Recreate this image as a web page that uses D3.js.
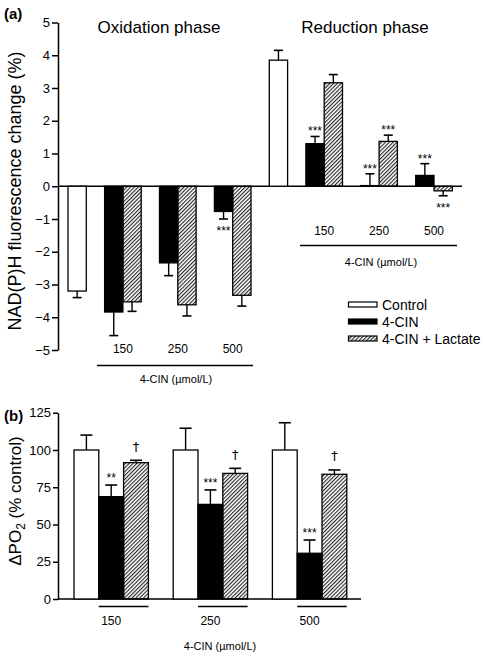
<!DOCTYPE html>
<html>
<head>
<meta charset="utf-8">
<script src="https://cdn.jsdelivr.net/npm/d3@7"></script>
<style>
  html, body { margin: 0; padding: 0; background: #fff; }
  svg { display: block; }
  text { font-family: "Liberation Sans", Arial, Helvetica, sans-serif; fill: #000; }
</style>
</head>
<body>
<svg id="chart" width="483" height="657"></svg>
<script>
// ---------------- DATA ----------------
const seriesNames = ["Control", "4-CIN", "4-CIN + Lactate"];
const doses = ["150", "250", "500"];
const phases = ["Oxidation phase", "Reduction phase"];

// Panel (a): NAD(P)H fluorescence change (%)
const oxControl = -3.2, oxControlErr = 0.2;
const ox4CIN = [-3.84, -2.34, -0.77];
const ox4CINErr = [0.72, 0.39, 0.23];
const oxLact = [-3.53, -3.62, -3.33];
const oxLactErr = [0.29, 0.34, 0.33];
const ox4CINSig = ["", "", "***"];
const oxLactSig = ["", "", ""];

const redControl = 3.85, redControlErr = 0.3;
const red4CIN = [1.3, 0.02, 0.33];
const red4CINErr = [0.22, 0.36, 0.36];
const redLact = [3.16, 1.37, -0.14];
const redLactErr = [0.25, 0.19, 0.15];
const red4CINSig = ["***", "***", "***"];
const redLactSig = ["", "***", "***"];

const aTicks = [-5, -4, -3, -2, -1, 0, 1, 2, 3, 4, 5];

// Panel (b): ΔPO2 (% control)
const bControl = [100, 100, 100];
const bControlErr = [10, 14.6, 18.3];
const b4CIN = [68.7, 63.5, 30.7];
const b4CINErr = [7.8, 9.7, 8.9];
const bLact = [91.5, 84.3, 83.7];
const bLactErr = [1.6, 3.4, 2.9];
const b4CINSig = ["**", "***", "***"];
const bLactSig = ["\u2020", "\u2020", "\u2020"];
const bTicks = [0, 25, 50, 75, 100, 125];

const doseUnitLabel = "4-CIN (\u00B5mol/L)";

// ---------------- SETUP ----------------
const svg = d3.select("#chart");
const defs = svg.append("defs");
defs.append("pattern")
  .attr("id", "hatch")
  .attr("patternUnits", "userSpaceOnUse")
  .attr("width", 2.7).attr("height", 10)
  .attr("patternTransform", "rotate(45)")
  .append("line")
  .attr("x1", 0.6).attr("y1", 0).attr("x2", 0.6).attr("y2", 10)
  .attr("stroke", "#000").attr("stroke-width", 0.95);

const fills = { control: "#fff", cin: "#000", lact: "url(#hatch)" };

function drawBar(g, x0, x1, y, v, err, fill, capW, sig, sigStyle) {
  const yv = y(v), y0 = y(0);
  const top = Math.min(yv, y0), h = Math.abs(yv - y0);
  const xc = (x0 + x1) / 2;
  const dir = v >= 0 ? 1 : -1;
  const ye = y(v + dir * err);
  // error bar
  g.append("line").attr("x1", xc).attr("x2", xc).attr("y1", yv).attr("y2", ye)
    .attr("stroke", "#000").attr("stroke-width", 1.4);
  g.append("line").attr("x1", xc - capW / 2).attr("x2", xc + capW / 2).attr("y1", ye).attr("y2", ye)
    .attr("stroke", "#000").attr("stroke-width", 1.6);
  g.append("rect").attr("x", x0).attr("y", top).attr("width", x1 - x0).attr("height", Math.max(h, 0.01))
    .attr("fill", fill).attr("stroke", "#000").attr("stroke-width", 1.3);
  if (sig) {
    const isDagger = sig === "\u2020";
    let by;
    if (dir > 0) by = ye - (isDagger ? 9.5 : sigStyle.above);
    else by = ye + sigStyle.below;
    g.append("text").attr("x", xc).attr("y", by).attr("text-anchor", "middle")
      .attr("fill", "#000")
      .style("fill", "#000")
      .style("font-family", isDagger ? '"DejaVu Sans", sans-serif' : '"Liberation Sans", sans-serif')
      .style("font-size", isDagger ? "13px" : "12px").text(sig);
  }
}

// ---------------- PANEL (a) ----------------
const gA = svg.append("g");
const yA = d3.scaleLinear().domain([-5, 5]).range([350, 22.5]);
const xA = d3.scaleLinear().domain([0, 20]).range([68, 434]); // slot scale, 1 slot = 1 bar
const axisAx = 58;

gA.append("g").attr("transform", `translate(${axisAx},0)`)
  .call(d3.axisLeft(yA).tickValues(aTicks).tickSize(6).tickSizeOuter(0).tickPadding(2))
  .call(g => {
    g.select(".domain").attr("stroke-width", 1.5);
    g.selectAll(".tick line").attr("stroke-width", 1.5);
    g.selectAll(".tick text").style("font-size", "13px")
      .style("font-family", '"Liberation Sans", Arial, sans-serif');
  });

// zero line
gA.append("line").attr("x1", axisAx).attr("x2", 462).attr("y1", yA(0)).attr("y2", yA(0))
  .attr("stroke", "#000").attr("stroke-width", 1.5);

const sigA = { above: 1, below: 16 };
const capA = 9;
const phaseData = [
  { off: 0, c: oxControl, cErr: oxControlErr, cin: ox4CIN, cinErr: ox4CINErr, lact: oxLact, lactErr: oxLactErr, cinSig: ox4CINSig, lactSig: oxLactSig },
  { off: 11, c: redControl, cErr: redControlErr, cin: red4CIN, cinErr: red4CINErr, lact: redLact, lactErr: redLactErr, cinSig: red4CINSig, lactSig: redLactSig }
];
phaseData.forEach(p => {
  drawBar(gA, xA(p.off), xA(p.off + 1), yA, p.c, p.cErr, fills.control, capA, "", sigA);
  doses.forEach((d, i) => {
    const s = p.off + 2 + 3 * i;
    drawBar(gA, xA(s), xA(s + 1), yA, p.cin[i], p.cinErr[i], fills.cin, capA, p.cinSig[i], sigA);
    drawBar(gA, xA(s + 1), xA(s + 2), yA, p.lact[i], p.lactErr[i], fills.lact, capA, p.lactSig[i], sigA);
  });
});

// phase titles
gA.append("text").attr("x", 159).attr("y", 32.5).attr("text-anchor", "middle")
  .style("font-size", "17px").text(phases[0]);
gA.append("text").attr("x", 365).attr("y", 33).attr("text-anchor", "middle")
  .style("font-size", "17px").text(phases[1]);

// dose labels
const doseRowA = [
  { off: 0, labelY: 353, lineY: 365.5, lineX: [97, 253], unitX: 176, unitY: 383 },
  { off: 11, labelY: 235, lineY: 245.5, lineX: [300, 457], unitX: 381, unitY: 266 }
];
doseRowA.forEach(r => {
  doses.forEach((d, i) => {
    const s = r.off + 2 + 3 * i;
    gA.append("text").attr("x", xA(s + 1)).attr("y", r.labelY).attr("text-anchor", "middle")
      .style("font-size", "12px").text(d);
  });
  gA.append("line").attr("x1", r.lineX[0]).attr("x2", r.lineX[1]).attr("y1", r.lineY).attr("y2", r.lineY)
    .attr("stroke", "#000").attr("stroke-width", 1.4);
  gA.append("text").attr("x", r.unitX).attr("y", r.unitY).attr("text-anchor", "middle")
    .style("font-size", "11px").text(doseUnitLabel);
});

// y label
gA.append("text").attr("transform", "translate(20.5,191) rotate(-90)").attr("text-anchor", "middle")
  .style("font-size", "18px").text("NAD(P)H fluorescence change (%)");

// panel letter
svg.append("text").attr("x", 4).attr("y", 19).style("font-size", "15px").style("font-weight", "bold").text("(a)");

// legend
const legFills = [fills.control, fills.cin, fills.lact];
const leg = svg.append("g");
seriesNames.forEach((n, i) => {
  const cy = 304.5 + i * 17;
  leg.append("rect").attr("x", 348.5).attr("y", cy - 2.5).attr("width", 28.5).attr("height", 5)
    .attr("fill", legFills[i]).attr("stroke", "#000").attr("stroke-width", 1.2);
  leg.append("text").attr("x", 382).attr("y", cy + 5).style("font-size", "14px").text(n);
});

// ---------------- PANEL (b) ----------------
const gB = svg.append("g");
const yB = d3.scaleLinear().domain([0, 125]).range([599, 412.75]);
const xB = d3.scaleLinear().domain([0, 12]).range([74, 371.6]);

gB.append("g").attr("transform", `translate(${axisAx},0)`)
  .call(d3.axisLeft(yB).tickValues(bTicks).tickSize(5).tickSizeOuter(0).tickPadding(2))
  .call(g => {
    g.select(".domain").attr("stroke-width", 1.5);
    g.selectAll(".tick line").attr("stroke-width", 1.5);
    g.selectAll(".tick text").style("font-size", "13px")
      .style("font-family", '"Liberation Sans", Arial, sans-serif');
  });
gB.append("line").attr("x1", axisAx).attr("x2", 361).attr("y1", yB(0)).attr("y2", yB(0))
  .attr("stroke", "#000").attr("stroke-width", 1.5);

const sigB = { above: 3, below: 16 };
const capB = 12;
doses.forEach((d, i) => {
  const s = 4 * i;
  drawBar(gB, xB(s), xB(s + 1), yB, bControl[i], bControlErr[i], fills.control, capB, "", sigB);
  drawBar(gB, xB(s + 1), xB(s + 2), yB, b4CIN[i], b4CINErr[i], fills.cin, capB, b4CINSig[i], sigB);
  drawBar(gB, xB(s + 2), xB(s + 3), yB, bLact[i], bLactErr[i], fills.lact, capB, bLactSig[i], sigB);
  gB.append("line").attr("x1", xB(s + 1)).attr("x2", xB(s + 3)).attr("y1", 606.5).attr("y2", 606.5)
    .attr("stroke", "#000").attr("stroke-width", 1.4);
  gB.append("text").attr("x", xB(s + 1.5)).attr("y", 625).attr("text-anchor", "middle")
    .style("font-size", "12px").text(d);
});
gB.append("text").attr("x", 220).attr("y", 650).attr("text-anchor", "middle")
  .style("font-size", "11px").text(doseUnitLabel);

const yLabB = gB.append("text").attr("transform", "translate(20.5,501) rotate(-90)").attr("text-anchor", "middle")
  .style("font-size", "17px");
yLabB.append("tspan").text("\u0394PO");
yLabB.append("tspan").attr("dy", 4).style("font-size", "12px").text("2");
yLabB.append("tspan").attr("dy", -4).text(" (% control)");

svg.append("text").attr("x", 4).attr("y", 421).style("font-size", "15px").style("font-weight", "bold").text("(b)");
</script>
</body>
</html>
